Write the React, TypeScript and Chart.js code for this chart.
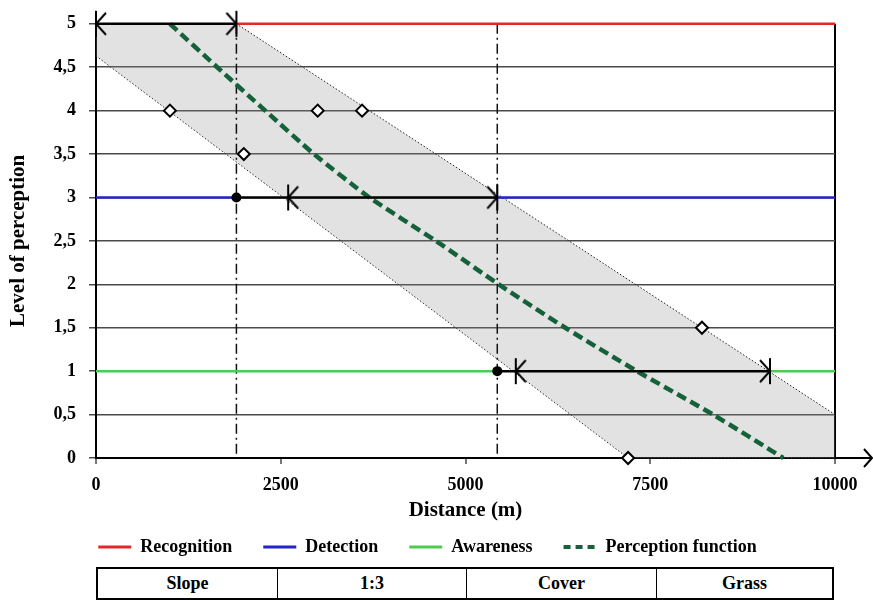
import React, { useEffect, useRef } from 'react';
import { Chart, registerables } from 'chart.js';

Chart.register(...registerables);

const SERIF = '"Liberation Serif", "Times New Roman", Times, serif';

// Axis ranges
const xRange = [0, 10000];
const yRange = [0, 5];
const xStep = 2500;
const yStep = 0.5;

// Threshold levels of perception
const legendNames = ['Recognition', 'Detection', 'Awareness', 'Perception function'];
const legendColors = ['#e3282c', '#2323c8', '#4fcb4f', '#15623a'];
const recognitionLevel = 5;
const detectionLevel = 3;
const awarenessLevel = 1;

// Horizontal threshold segments [from, to] in metres
const recognitionSegments = [[1900, 10000]];
const detectionSegments = [[0, 1900], [5430, 10000]];
const awarenessSegments = [[0, 5430], [9120, 10000]];

// Perception function (distance in m for each level)
const perceptionLevels = [5, 4.5, 4, 3.5, 3, 2.5, 2, 1.5, 1, 0.5, 0];
const perceptionDistances = [1000, 1640, 2290, 2950, 3700, 4600, 5450, 6350, 7320, 8350, 9300];

// Uncertainty band edges
const upperEdgeX = [0, 1900, 10000];
const upperEdgeY = [5, 5, 0.5];
const lowerEdgeX = [0, 7200, 10000];
const lowerEdgeY = [4.63, 0, 0];

// Observations
const obsDistances = [1000, 3000, 3600, 2000, 8200, 7200];
const obsLevels = [4, 4, 4, 3.5, 1.5, 0];

// Distance intervals for each threshold
const intervalLevels = [5, 3, 1];
const intervalFrom = [0, 1900, 5430];
const intervalLeftHead = [0, 2600, 5680];
const intervalRightHead = [1900, 5430, 9120];

// Threshold crossings
const crossingDistances = [1900, 5430];
const crossingLevels = [3, 1];

// Vertical guide lines
const guideDistances = [1900, 5430];

// x-axis arrow tip
const axisArrowTip = 10500;

// Site description table
const tableCells = ['Slope', '1:3', 'Cover', 'Grass'];
const tableColumnWidths = [181, 189, 190, 178];

function makeHead(dir: 'left' | 'right' | 'tip', bar: boolean): HTMLCanvasElement {
  const c = document.createElement('canvas');
  c.width = 28;
  c.height = 30;
  const g = c.getContext('2d') as CanvasRenderingContext2D;
  g.strokeStyle = '#000';
  g.lineWidth = 2;
  const cx = 14;
  const cy = 15;
  const s = dir === 'left' ? 1 : -1;
  const dx = dir === 'tip' ? 8 : 10;
  const dy = dir === 'tip' ? 9 : 11;
  g.beginPath();
  g.moveTo(cx + s * dx, cy - dy);
  g.lineTo(cx, cy);
  g.lineTo(cx + s * dx, cy + dy);
  if (bar) {
    g.moveTo(cx, cy - 13);
    g.lineTo(cx, cy + 13);
  }
  g.stroke();
  return c;
}

const segData = (seg: number[], y: number) => [{ x: seg[0], y }, { x: seg[1], y }];

export default function App() {
  const ref = useRef<HTMLCanvasElement | null>(null);

  useEffect(() => {
    const canvas = ref.current;
    if (!canvas) return;
    Chart.defaults.font.family = SERIF;
    Chart.defaults.color = '#000';

    const leftHead = makeHead('left', true);
    const rightHead = makeHead('right', true);
    const tipHead = makeHead('tip', false);

    const datasets: any[] = [];

    // observations (diamonds)
    datasets.push({
      data: obsDistances.map((x, i) => ({ x, y: obsLevels[i] })),
      showLine: false,
      pointStyle: 'rectRot',
      pointRadius: 6,
      pointBackgroundColor: '#fff',
      pointBorderColor: '#000',
      pointBorderWidth: 2,
      clip: false,
    });
    // crossing dots
    datasets.push({
      data: crossingDistances.map((x, i) => ({ x, y: crossingLevels[i] })),
      showLine: false,
      pointStyle: 'circle',
      pointRadius: 5,
      pointBackgroundColor: '#000',
      pointBorderColor: '#000',
      pointBorderWidth: 0,
      clip: false,
    });
    // interval heads
    datasets.push({
      data: intervalLevels.map((y, i) => ({ x: intervalLeftHead[i], y })),
      showLine: false,
      pointStyle: leftHead,
      pointRadius: 12,
      clip: false,
    });
    datasets.push({
      data: intervalLevels.map((y, i) => ({ x: intervalRightHead[i], y })),
      showLine: false,
      pointStyle: rightHead,
      pointRadius: 12,
      clip: false,
    });
    // interval lines
    intervalLevels.forEach((y, i) => {
      datasets.push({
        data: [{ x: intervalFrom[i], y }, { x: intervalRightHead[i], y }],
        showLine: true,
        borderColor: '#000',
        borderWidth: 2.5,
        pointRadius: 0,
        clip: false,
      });
    });
    // perception function
    datasets.push({
      data: perceptionDistances.map((x, i) => ({ x, y: perceptionLevels[i] })),
      showLine: true,
      borderColor: legendColors[3],
      borderWidth: 4.5,
      borderDash: [10, 5],
      tension: 0.2,
      pointRadius: 0,
      clip: false,
    });
    // threshold lines
    const thresholdGroups: [number[][], number, string][] = [
      [recognitionSegments, recognitionLevel, legendColors[0]],
      [detectionSegments, detectionLevel, legendColors[1]],
      [awarenessSegments, awarenessLevel, legendColors[2]],
    ];
    thresholdGroups.forEach(([segs, y, color]) => {
      segs.forEach((seg) => {
        datasets.push({
          data: segData(seg, y),
          showLine: true,
          borderColor: color,
          borderWidth: 2.5,
          pointRadius: 0,
          clip: false,
        });
      });
    });
    // x-axis arrow
    datasets.push({
      data: [{ x: xRange[1], y: 0 }, { x: axisArrowTip, y: 0 }],
      showLine: true,
      borderColor: '#000',
      borderWidth: 2,
      pointStyle: tipHead,
      pointRadius: (c: any) => (c.dataIndex === 1 ? 60 : 0),
      clip: false,
    });
    // vertical guides
    guideDistances.forEach((x) => {
      datasets.push({
        data: [{ x, y: yRange[1] }, { x, y: yRange[0] }],
        showLine: true,
        borderColor: '#111',
        borderWidth: 1.5,
        borderDash: [10, 4, 2, 4],
        pointRadius: 0,
        clip: false,
      });
    });
    // band (upper edge filled down to lower edge)
    datasets.push({
      data: upperEdgeX.map((x, i) => ({ x, y: upperEdgeY[i] })),
      showLine: true,
      borderColor: '#222',
      borderWidth: 1,
      borderDash: [1.5, 2],
      backgroundColor: 'rgba(140,140,140,0.25)',
      fill: '+1',
      pointRadius: 0,
      clip: false,
    });
    datasets.push({
      data: lowerEdgeX.map((x, i) => ({ x, y: lowerEdgeY[i] })),
      showLine: true,
      borderColor: '#222',
      borderWidth: 1,
      borderDash: [1.5, 2],
      pointRadius: 0,
      clip: false,
    });

    const legendDash = [[], [], [], [7, 5]];

    const chart = new Chart(canvas, {
      type: 'scatter',
      data: { datasets },
      options: {
        animation: false,
        responsive: false,
        events: [],
        layout: { autoPadding: false, padding: { left: 20, right: 38, top: 22, bottom: 0 } },
        scales: {
          x: {
            type: 'linear',
            min: xRange[0],
            max: xRange[1],
            afterFit: (axis: any) => {
              axis.height = 49;
            },
            ticks: {
              stepSize: xStep,
              padding: 11,
              color: '#000',
              font: { size: 18, weight: 'bold' },
              callback: (v: any) => String(v),
            },
            grid: {
              color: (c: any) => (c.tick && c.tick.value === xRange[1] ? '#000' : 'rgba(0,0,0,0)'),
              lineWidth: 2,
              tickColor: '#777',
              tickLength: 6,
            },
            border: { color: '#000', width: 2 },
            title: {
              display: true,
              text: 'Distance (m)',
              color: '#000',
              font: { size: 21, weight: 'bold' },
              padding: { top: 0, bottom: -16 },
            },
          },
          y: {
            type: 'linear',
            min: yRange[0],
            max: yRange[1],
            afterFit: (axis: any) => {
              axis.width = 76;
            },
            ticks: {
              stepSize: yStep,
              padding: 13,
              color: '#000',
              font: { size: 18, weight: 'bold' },
              callback: (v: any) => String(v).replace('.', ','),
            },
            grid: {
              color: '#4a4a4a',
              lineWidth: 1.5,
              tickLength: 7,
            },
            border: { color: '#000', width: 2 },
            title: {
              display: true,
              text: 'Level of perception',
              color: '#000',
              font: { size: 21, weight: 'bold' },
              padding: { top: -14, bottom: 0 },
            },
          },
        },
        plugins: {
          tooltip: { enabled: false },
          legend: {
            display: true,
            position: 'bottom',
            onClick: () => {},
            labels: {
              usePointStyle: true,
              pointStyleWidth: 33,
              padding: 31,
              color: '#000',
              font: { size: 18, weight: 'bold' },
              generateLabels: () =>
                legendNames.map((text, i) => ({
                  text,
                  fillStyle: legendColors[i],
                  strokeStyle: legendColors[i],
                  fontColor: '#000',
                  lineWidth: i === 3 ? 4 : 3,
                  lineDash: legendDash[i],
                  pointStyle: 'line',
                  hidden: false,
                  datasetIndex: 0,
                })),
            },
          },
        },
      } as any,
    });
    return () => chart.destroy();
  }, []);

  return (
    <div style={{ position: 'absolute', left: 0, top: 0, width: 873, height: 601, background: '#fff', overflow: 'hidden' }}>
      <canvas ref={ref} width={873} height={566} style={{ position: 'absolute', left: 0, top: 0 }} />
      <div
        style={{
          position: 'absolute',
          left: 96,
          top: 567,
          width: 738,
          height: 33,
          display: 'flex',
          border: '2px solid #000',
          boxSizing: 'border-box',
          fontFamily: SERIF,
          fontWeight: 'bold',
          fontSize: 18,
          color: '#000',
        }}
      >
        {tableCells.map((t, i) => (
          <div
            key={t}
            style={{
              width: tableColumnWidths[i] - (i === 0 || i === tableCells.length - 1 ? 2 : 0),
              borderLeft: i > 0 ? '1.5px solid #000' : 'none',
              boxSizing: 'border-box',
              display: 'flex',
              alignItems: 'center',
              justifyContent: 'center',
            }}
          >
            {t}
          </div>
        ))}
      </div>
    </div>
  );
}
